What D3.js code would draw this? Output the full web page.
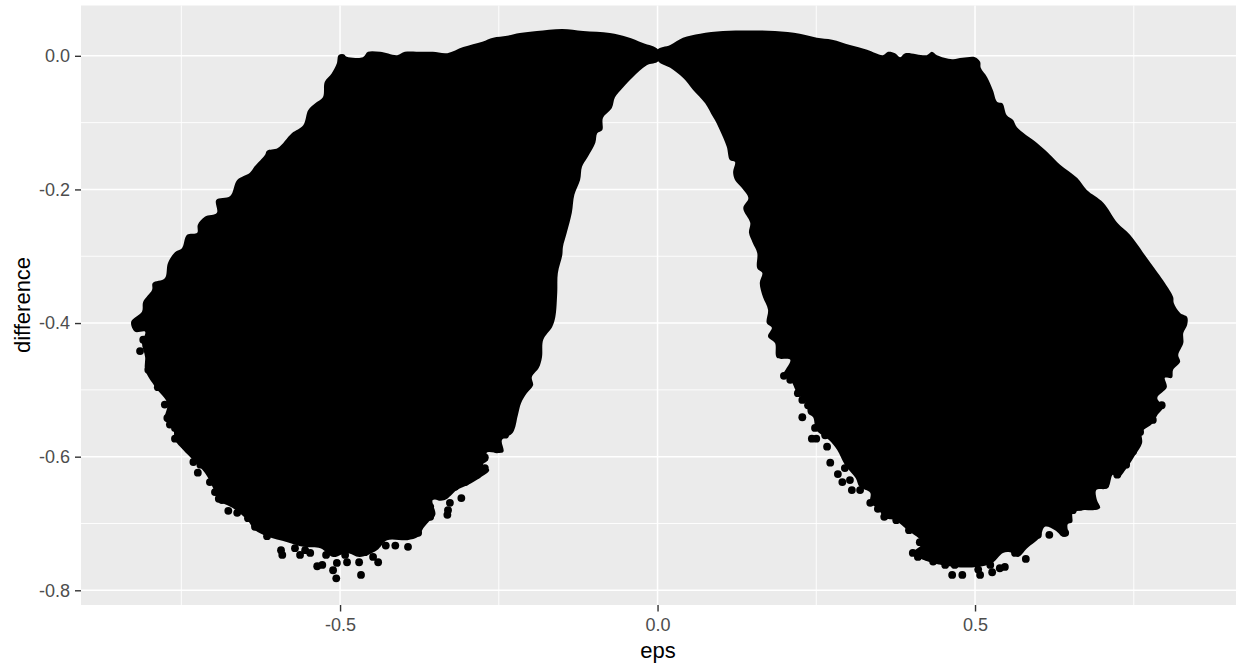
<!DOCTYPE html>
<html>
<head>
<meta charset="utf-8">
<script src="https://cdn.jsdelivr.net/npm/d3@7"></script>
<style>
  body { margin: 0; background: #fff; }
  svg { display: block; font-family: "Liberation Sans", Arial, sans-serif; }
</style>
</head>
<body>
<script>
// tick positions and their labels
const xTicks = [-0.5, 0, 0.5]
const xTickLabels = ["-0.5", "0.0", "0.5"]
const xMinor = [-0.75, -0.25, 0.25, 0.75]
const yTicks = [0, -0.2, -0.4, -0.6, -0.8]
const yTickLabels = ["0.0", "-0.2", "-0.4", "-0.6", "-0.8"]
const yMinor = [-0.1, -0.3, -0.5, -0.7]

// the points overlap into two solid masses, so these are their outlines
const leftEdgeEps = [-0.829,-0.812,-0.810,-0.796,-0.795,-0.776,-0.771,-0.760,-0.749,-0.741,
  -0.725,-0.724,-0.713,-0.694,-0.695,-0.673,-0.662,-0.642,-0.635,-0.618,
  -0.615,-0.598,-0.576,-0.558,-0.550,-0.539,-0.527,-0.524,-0.513,-0.505,
  -0.502,-0.487,-0.464,-0.456,-0.437,-0.410,-0.398,-0.371,-0.354,-0.331,
  -0.306,-0.276,-0.259,-0.237,-0.217,-0.190,-0.150,-0.117,-0.075,-0.048,
  -0.023,0.001,
  0.001,-0.017,-0.039,-0.054,-0.067,-0.072,-0.086,-0.087,
  -0.095,-0.098,-0.111,-0.119,-0.122,-0.131,-0.135,-0.143,-0.149,-0.150,
  -0.157,-0.158,-0.161,-0.166,-0.180,-0.182,-0.187,-0.198,-0.196,-0.206,
  -0.215,-0.220,-0.228,-0.245,-0.243,-0.269,-0.267,-0.275,-0.265,-0.280,
  -0.298,-0.316,-0.335,-0.354,-0.350,-0.361,-0.369,-0.377,-0.394,-0.426,
  -0.442,-0.469,-0.489,-0.511,-0.531,-0.558,-0.583,-0.615,-0.634,-0.646,
  -0.669,-0.692,-0.700,-0.713,-0.747,-0.760,-0.763,-0.776,-0.772,-0.791,
  -0.807,-0.807,-0.812,-0.807,-0.823]
const leftEdgeDiff = [-0.398,-0.383,-0.368,-0.350,-0.340,-0.333,-0.310,-0.294,-0.288,-0.268,
  -0.265,-0.253,-0.241,-0.235,-0.216,-0.210,-0.186,-0.175,-0.166,-0.148,
  -0.142,-0.138,-0.116,-0.104,-0.081,-0.071,-0.062,-0.039,-0.026,-0.011,
  0.001,-0.002,-0.002,0.006,0.006,0.001,0.006,0.006,0.006,0.004,
  0.013,0.021,0.027,0.030,0.034,0.037,0.040,0.037,0.034,0.028,
  0.019,0.009,
  -0.008,-0.014,-0.032,-0.047,-0.062,-0.078,-0.093,-0.111,
  -0.116,-0.130,-0.153,-0.166,-0.186,-0.208,-0.235,-0.265,-0.286,-0.298,
  -0.325,-0.355,-0.391,-0.406,-0.425,-0.451,-0.467,-0.481,-0.493,-0.505,
  -0.520,-0.538,-0.564,-0.575,-0.593,-0.594,-0.605,-0.612,-0.620,-0.632,
  -0.642,-0.650,-0.665,-0.665,-0.687,-0.698,-0.707,-0.720,-0.725,-0.725,
  -0.740,-0.750,-0.744,-0.750,-0.737,-0.735,-0.728,-0.719,-0.710,-0.695,
  -0.677,-0.665,-0.647,-0.624,-0.590,-0.575,-0.557,-0.545,-0.520,-0.496,
  -0.470,-0.451,-0.430,-0.413,-0.413]

const rightEdgeEps = [0.000,0.020,0.040,0.067,0.103,0.146,0.185,0.224,0.251,0.275,
  0.303,0.330,0.355,0.363,0.374,0.382,0.390,0.424,0.432,0.440,
  0.464,0.480,0.500,0.508,0.509,0.519,0.528,0.535,0.543,0.550,
  0.560,0.566,0.598,0.618,0.634,0.661,0.676,0.702,0.724,0.744,
  0.765,0.787,0.799,0.812,0.813,0.823,0.834,0.834,
  0.828,0.828,0.820,0.823,0.812,0.810,0.799,0.802,0.787,0.796,
  0.787,0.780,0.763,0.763,0.752,0.739,0.725,0.717,0.709,0.691,
  0.692,0.697,0.686,0.670,0.654,0.653,0.646,0.646,0.639,0.626,
  0.610,0.602,0.582,0.568,0.555,0.544,0.527,0.503,0.468,0.434,
  0.409,0.402,0.417,0.394,0.374,0.358,0.347,0.335,0.335,0.318,
  0.312,0.295,0.283,0.270,0.250,0.245,0.237,0.235,0.220,0.209,
  0.198,0.209,0.188,0.185,0.174,0.180,0.172,0.174,0.166,0.161,
  0.165,0.157,0.157,0.150,0.144,0.146,0.135,0.143,0.133,0.122,
  0.119,0.122,0.114,0.109,0.098,0.092,0.087,0.075,0.056,0.040,
  0.020,0.001]
const rightEdgeDiff = [0.009,0.016,0.027,0.033,0.037,0.038,0.037,0.033,0.027,0.024,
  0.016,0.009,0.001,0.006,0.004,-0.002,0.004,0.001,0.006,0.001,
  -0.005,-0.003,-0.002,-0.009,-0.018,-0.032,-0.051,-0.069,-0.071,-0.089,
  -0.096,-0.107,-0.131,-0.148,-0.163,-0.183,-0.201,-0.220,-0.250,-0.268,
  -0.295,-0.324,-0.340,-0.361,-0.370,-0.385,-0.391,-0.403,
  -0.415,-0.430,-0.448,-0.458,-0.470,-0.482,-0.482,-0.496,-0.512,-0.526,
  -0.538,-0.550,-0.563,-0.580,-0.598,-0.617,-0.632,-0.627,-0.647,-0.650,
  -0.665,-0.677,-0.680,-0.680,-0.684,-0.698,-0.701,-0.717,-0.720,-0.710,
  -0.705,-0.721,-0.737,-0.750,-0.743,-0.744,-0.759,-0.765,-0.765,-0.759,
  -0.750,-0.744,-0.729,-0.710,-0.695,-0.692,-0.678,-0.669,-0.654,-0.645,
  -0.632,-0.612,-0.590,-0.575,-0.560,-0.541,-0.535,-0.520,-0.505,-0.485,
  -0.479,-0.455,-0.452,-0.430,-0.420,-0.407,-0.400,-0.380,-0.361,-0.340,
  -0.325,-0.318,-0.295,-0.280,-0.265,-0.250,-0.228,-0.213,-0.198,-0.186,
  -0.174,-0.159,-0.156,-0.136,-0.111,-0.099,-0.091,-0.071,-0.051,-0.033,
  -0.018,-0.008]

// single points that stick out of the masses
const pointEps = [-0.821,-0.815,-0.802,-0.787,-0.772,-0.760,-0.760,-0.731,-0.724,-0.709,
  -0.697,-0.691,-0.676,-0.662,-0.645,-0.634,-0.615,-0.602,-0.593,-0.591,
  -0.571,-0.563,-0.547,-0.536,-0.528,-0.511,-0.506,-0.505,-0.489,-0.467,
  -0.470,-0.440,-0.448,-0.442,-0.428,-0.413,-0.393,-0.377,-0.358,-0.358,
  -0.343,-0.309,-0.327,-0.330,-0.331,-0.287,-0.497,
  -0.240,-0.253,-0.272,-0.272,-0.284,-0.303,-0.319,
  -0.555,-0.522,-0.492,-0.461,-0.810,-0.798,-0.776,-0.768,-0.744,-0.720,-0.705,-0.686,
  0.199,0.209,0.228,0.221,0.228,0.243,0.250,0.248,0.267,0.272,
  0.284,0.291,0.306,0.335,0.347,0.357,0.376,0.396,0.402,0.410,
  0.413,0.426,0.434,0.464,0.480,0.468,0.508,0.505,0.527,0.539,
  0.547,0.580,0.617,0.642,0.639,0.689,0.665,0.749,0.724,
  0.794,0.780,0.760,0.738,0.705,0.673,0.654,
  0.524,0.563,0.599,0.453,0.442,
  0.295,0.319,0.303,0.264,0.256,0.237,0.343,0.366,0.390,0.421]
const pointDiff = [-0.403,-0.442,-0.470,-0.496,-0.542,-0.557,-0.573,-0.608,-0.624,-0.612,
  -0.653,-0.663,-0.681,-0.684,-0.692,-0.705,-0.719,-0.713,-0.740,-0.747,
  -0.737,-0.747,-0.744,-0.764,-0.762,-0.770,-0.782,-0.759,-0.758,-0.777,
  -0.758,-0.758,-0.750,-0.729,-0.733,-0.733,-0.735,-0.714,-0.690,-0.675,
  -0.660,-0.662,-0.669,-0.680,-0.687,-0.627,-0.003,
  -0.567,-0.589,-0.601,-0.617,-0.627,-0.638,-0.645,
  -0.740,-0.747,-0.747,-0.743,-0.425,-0.463,-0.522,-0.552,-0.583,-0.612,-0.638,-0.665,
  -0.479,-0.485,-0.541,-0.505,-0.515,-0.573,-0.573,-0.557,-0.585,-0.609,
  -0.626,-0.638,-0.650,-0.669,-0.678,-0.690,-0.695,-0.710,-0.744,-0.750,
  -0.728,-0.750,-0.757,-0.777,-0.777,-0.762,-0.777,-0.769,-0.773,-0.767,
  -0.765,-0.753,-0.717,-0.714,-0.713,-0.674,-0.675,-0.592,-0.627,
  -0.523,-0.545,-0.563,-0.612,-0.642,-0.669,-0.680,
  -0.762,-0.744,-0.717,-0.762,-0.755,
  -0.617,-0.650,-0.635,-0.568,-0.553,-0.523,-0.658,-0.680,-0.695,-0.737]

const width = 1236
const height = 666
const panel = {left: 81, right: 1236, top: 5.5, bottom: 605}

const svg = d3.select("body")
    .append("svg")
    .attr("width", width)
    .attr("height", height)

const xScale = d3.scaleLinear()
    .domain([-0.908, 0.911])
    .range([panel.left, panel.right])
const yScale = d3.scaleLinear()
    .domain([0.0753, -0.822])
    .range([panel.top, panel.bottom])

svg.append("rect")
    .attr("x", panel.left)
    .attr("y", panel.top)
    .attr("width", panel.right - panel.left)
    .attr("height", panel.bottom - panel.top)
    .attr("fill", "#EBEBEB")

// grid, minor lines first
function gridX(values, w) {
    svg.append("g").selectAll("line")
        .data(values).enter()
        .append("line")
        .attr("x1", d => xScale(d)).attr("x2", d => xScale(d))
        .attr("y1", panel.top).attr("y2", panel.bottom)
        .attr("stroke", "#fff").attr("stroke-width", w)
}
function gridY(values, w) {
    svg.append("g").selectAll("line")
        .data(values).enter()
        .append("line")
        .attr("y1", d => yScale(d)).attr("y2", d => yScale(d))
        .attr("x1", panel.left).attr("x2", panel.right)
        .attr("stroke", "#fff").attr("stroke-width", w)
}
gridX(xMinor, 0.9)
gridY(yMinor, 0.9)
gridX(xTicks, 1.5)
gridY(yTicks, 1.5)

const outline = d3.line()
    .x(d => xScale(d[0]))
    .y(d => yScale(d[1]))
    .curve(d3.curveCatmullRomClosed.alpha(0.5))

svg.append("path")
    .attr("d", outline(d3.zip(leftEdgeEps, leftEdgeDiff)))
    .attr("fill", "#000")
svg.append("path")
    .attr("d", outline(d3.zip(rightEdgeEps, rightEdgeDiff)))
    .attr("fill", "#000")

svg.append("g").selectAll("circle")
    .data(d3.zip(pointEps, pointDiff)).enter()
    .append("circle")
    .attr("cx", d => xScale(d[0]))
    .attr("cy", d => yScale(d[1]))
    .attr("r", 3.9)
    .attr("fill", "#000")

const xAxis = d3.axisBottom(xScale)
    .tickValues(xTicks)
    .tickSize(6.5)
    .tickPadding(7)
    .tickFormat((d, i) => xTickLabels[i])
const yAxis = d3.axisLeft(yScale)
    .tickValues(yTicks)
    .tickSize(6)
    .tickPadding(5)
    .tickFormat((d, i) => yTickLabels[i])

const gx = svg.append("g")
    .attr("transform", "translate(0," + panel.bottom + ")")
    .call(xAxis)
const gy = svg.append("g")
    .attr("transform", "translate(" + panel.left + ",0)")
    .call(yAxis)

gx.select(".domain").remove()
gy.select(".domain").remove()
svg.selectAll(".tick line").attr("stroke", "#333").attr("stroke-width", 1.4)
svg.selectAll(".tick text")
    .attr("fill", "#4D4D4D")
    .attr("font-size", "18px")
    .attr("font-family", "Liberation Sans")

svg.append("text")
    .attr("x", 658)
    .attr("y", 658)
    .attr("text-anchor", "middle")
    .attr("font-size", "22px")
    .attr("fill", "#000")
    .text("eps")
svg.append("text")
    .attr("transform", "translate(30,305) rotate(-90)")
    .attr("text-anchor", "middle")
    .attr("font-size", "22px")
    .attr("fill", "#000")
    .text("difference")
</script>
</body>
</html>
